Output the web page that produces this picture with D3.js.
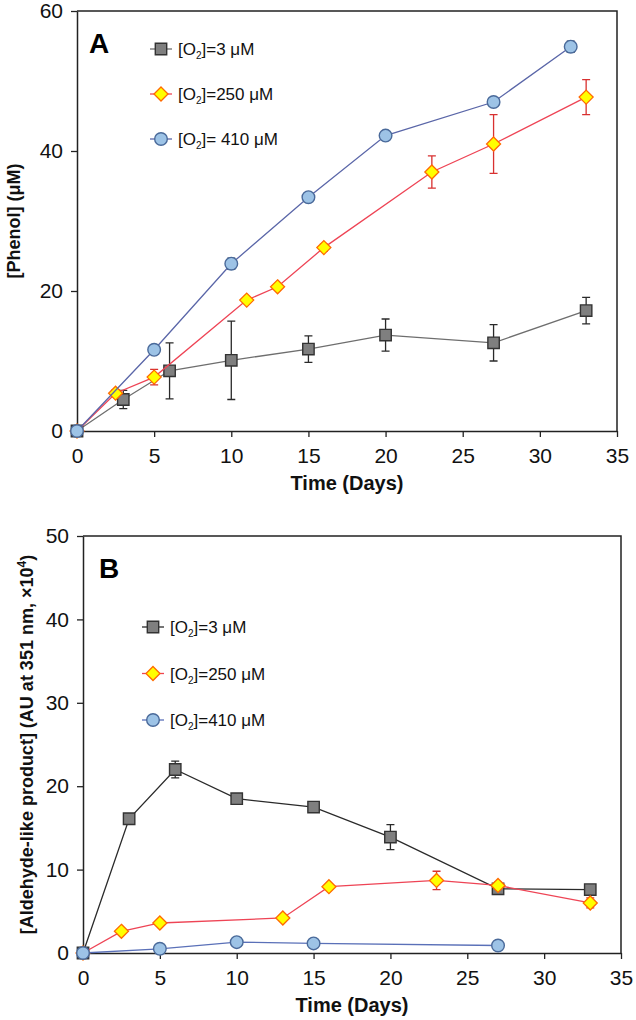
<!DOCTYPE html>
<html>
<head>
<meta charset="utf-8">
<script src="https://cdn.jsdelivr.net/npm/d3@7"></script>
<style>
  html, body { margin: 0; padding: 0; background: #fff; }
  svg { display: block; font-family: "Liberation Sans", Arial, sans-serif; }
</style>
</head>
<body>
<svg id="chart" width="636" height="1020"></svg>
<script>
// ---------- Panel A data : [Phenol] (µM) ----------
const daysALow  = [0, 3, 6, 10, 15, 20, 27, 33];
const phenolLow = [0, 4.5, 8.6, 10.1, 11.7, 13.7, 12.6, 17.2];
const phenolLowErr = [0, 1.3, 4.0, 5.6, 1.9, 2.3, 2.6, 1.9];

const daysAMid  = [0, 2.5, 5, 11, 13, 16, 23, 27, 33];
const phenolMid = [0, 5.4, 7.7, 18.7, 20.6, 26.2, 37.0, 41.0, 47.7];
const phenolMidErr = [0, 0.5, 1.1, 0, 0, 0.5, 2.3, 4.2, 2.5];

const daysAHigh  = [0, 5, 10, 15, 20, 27, 32];
const phenolHigh = [0, 11.6, 23.9, 33.4, 42.2, 47.0, 54.9];
const phenolHighErr = [0, 0.6, 0.8, 0.5, 0.4, 0.6, 0.8];

// ---------- Panel B data : aldehyde-like product ----------
const daysBLow = [0, 3, 6, 10, 15, 20, 27, 33];
const aldLow   = [0, 16.1, 22.0, 18.5, 17.5, 13.9, 7.7, 7.6];
const aldLowErr = [0, 0.4, 1.0, 0.6, 0.4, 1.5, 0.4, 0.3];

const daysBMid = [0, 2.5, 5, 13, 16, 23, 27, 33];
const aldMid   = [0, 2.6, 3.6, 4.2, 7.95, 8.7, 8.1, 6.0];
const aldMidErr = [0, 0, 0, 0, 0, 1.1, 0.4, 0.6];

const daysBHigh = [0, 5, 10, 15, 27];
const aldHigh   = [0, 0.5, 1.3, 1.15, 0.9];
const aldHighErr = [0, 0, 0.3, 0, 0];

// ---------- ticks / labels ----------
const xTicks = [0, 5, 10, 15, 20, 25, 30, 35];
const yTicksA = [0, 20, 40, 60];
const yTicksB = [0, 10, 20, 30, 40, 50];
const legendA = [["3 μM", "low"], ["250 μM", "mid"], [" 410 μM", "high"]];
const legendB = [["3 μM", "low"], ["250 μM", "mid"], ["410 μM", "high"]];

const svg = d3.select("#chart");

const styles = {
  low:  { fill: "#7f7f7f", stroke: "#333333", lineA: "#6e6e6e", lineB: "#2a2a2a", err: "#2a2a2a", shape: d3.symbolSquare, size: 130 },
  mid:  { fill: "#ffff00", stroke: "#ff6a00", lineA: "#ee4455", lineB: "#ee4455", err: "#d83030", shape: null, size: 0 },
  high: { fill: "#9dc3e6", stroke: "#4a6a9a", lineA: "#5a66a8", lineB: "#5a70b8", err: "#2a3a5a", shape: d3.symbolCircle, size: 125 }
};

function marker(g, key, x, y) {
  const s = styles[key];
  if (key === "mid") {
    const r = 7;
    g.append("path")
      .attr("d", `M${x},${y - r}L${x + r},${y}L${x},${y + r}L${x - r},${y}Z`)
      .attr("fill", s.fill).attr("stroke", s.stroke).attr("stroke-width", 1.3);
  } else {
    g.append("path")
      .attr("d", d3.symbol().type(s.shape).size(s.size)())
      .attr("transform", `translate(${x},${y})`)
      .attr("fill", s.fill).attr("stroke", s.stroke).attr("stroke-width", 1.4);
  }
}

function panel(cfg) {
  const { left, right, top, bottom, yMax, yTicks, series, lineKey, letter, letterPos, legend, legendPos, yTitle, yTitleX } = cfg;
  const x = d3.scaleLinear().domain([0, 35]).range([left, right]);
  const y = d3.scaleLinear().domain([0, yMax]).range([bottom, top]);
  const g = svg.append("g");

  // frame (top/right)
  g.append("path")
    .attr("d", `M${left},${top}H${right}V${bottom}`)
    .attr("fill", "none").attr("stroke", "#222").attr("stroke-width", 1.5);

  // axes
  const yAxis = g.append("g").attr("transform", `translate(${left},0)`)
    .call(d3.axisLeft(y).tickValues(yTicks).tickSize(6).tickPadding(8).tickSizeOuter(0));
  const xAxis = g.append("g").attr("transform", `translate(0,${bottom})`)
    .call(d3.axisBottom(x).tickValues(xTicks).tickSize(6).tickPadding(11).tickSizeOuter(0));
  [yAxis, xAxis].forEach(a => {
    a.select(".domain").attr("stroke", "#222").attr("stroke-width", 1.5);
    a.selectAll(".tick line").attr("stroke", "#222").attr("stroke-width", 1.3);
    a.selectAll(".tick text").attr("font-size", 21).attr("fill", "#111")
      .attr("font-family", "Liberation Sans, Arial, sans-serif");
  });

  // series
  series.forEach(s => {
    const st = styles[s.key];
    const pts = s.xs.map((d, i) => ({ x: d, y: s.ys[i], e: s.es ? s.es[i] : 0 }));
    g.append("path").datum(pts)
      .attr("d", d3.line().x(d => x(d.x)).y(d => y(d.y)))
      .attr("fill", "none").attr("stroke", st[lineKey]).attr("stroke-width", 1.3);
    pts.filter(d => d.e > 0).forEach(d => {
      const cx = x(d.x), y1 = y(d.y + d.e), y2 = y(d.y - d.e);
      g.append("path")
        .attr("d", `M${cx},${y1}V${y2}M${cx - 4},${y1}H${cx + 4}M${cx - 4},${y2}H${cx + 4}`)
        .attr("stroke", st.err).attr("stroke-width", 1.3).attr("fill", "none");
    });
    pts.forEach(d => marker(g, s.key, x(d.x), y(d.y)));
  });

  // panel letter
  g.append("text").attr("x", letterPos[0]).attr("y", letterPos[1])
    .attr("font-size", 28).attr("font-weight", "bold").attr("fill", "#000").text(letter);

  // legend
  legend.forEach((l, i) => {
    const ly = legendPos.y + i * legendPos.dy;
    const key = l[1];
    g.append("line").attr("x1", legendPos.x - 11).attr("x2", legendPos.x + 11)
      .attr("y1", ly).attr("y2", ly).attr("stroke", styles[key][lineKey]).attr("stroke-width", 1.3);
    marker(g, key, legendPos.x, ly);
    const t = g.append("text").attr("x", legendPos.x + 17).attr("y", ly + 6)
      .attr("font-size", 17).attr("fill", "#111");
    t.append("tspan").text("[O");
    t.append("tspan").attr("font-size", 10).attr("dy", 4).text("2");
    t.append("tspan").attr("dy", -4).text("]=" + l[0]);
  });

  // axis titles
  g.append("text").attr("x", (left + right) / 2).attr("y", bottom + 59)
    .attr("text-anchor", "middle").attr("font-size", 20).attr("font-weight", "bold")
    .attr("fill", "#111").text("Time (Days)");
  const yt = g.append("text")
    .attr("transform", `translate(${yTitleX},${(top + bottom) / 2}) rotate(-90)`)
    .attr("text-anchor", "middle").attr("font-size", 18).attr("font-weight", "bold").attr("fill", "#111");
  yTitle(yt);
}

panel({
  left: 77, right: 617, top: 11, bottom: 431, yMax: 60, yTicks: yTicksA, lineKey: "lineA",
  series: [
    { key: "low", xs: daysALow, ys: phenolLow, es: phenolLowErr },
    { key: "mid", xs: daysAMid, ys: phenolMid, es: phenolMidErr },
    { key: "high", xs: daysAHigh, ys: phenolHigh, es: phenolHighErr }
  ],
  letter: "A", letterPos: [89, 53],
  legend: legendA, legendPos: { x: 161, y: 49, dy: 45 },
  yTitleX: 20,
  yTitle: t => t.text("[Phenol] (μM)")
});

panel({
  left: 83, right: 621, top: 536, bottom: 953, yMax: 50, yTicks: yTicksB, lineKey: "lineB",
  series: [
    { key: "low", xs: daysBLow, ys: aldLow, es: aldLowErr },
    { key: "mid", xs: daysBMid, ys: aldMid, es: aldMidErr },
    { key: "high", xs: daysBHigh, ys: aldHigh, es: aldHighErr }
  ],
  letter: "B", letterPos: [99, 578],
  legend: legendB, legendPos: { x: 153, y: 627, dy: 46.5 },
  yTitleX: 33,
  yTitle: t => {
    t.append("tspan").text("[Aldehyde-like product] (AU at 351 nm, ×10");
    t.append("tspan").attr("font-size", 12).attr("dy", -7).text("4");
    t.append("tspan").attr("dy", 7).text(")");
  }
});
</script>
</body>
</html>
